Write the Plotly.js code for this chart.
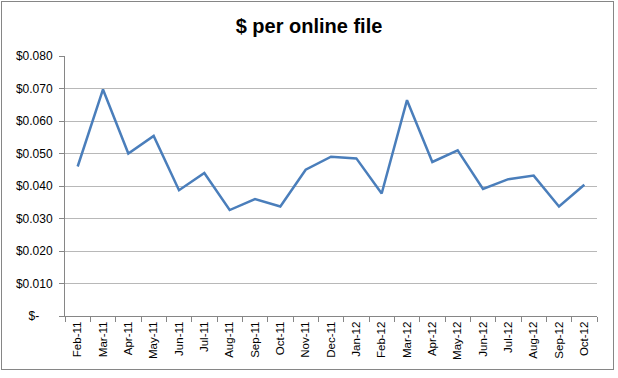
<!DOCTYPE html>
<html>
<head>
<meta charset="utf-8">
<script src="https://cdn.plot.ly/plotly-3.0.1.min.js"></script>
<style>
  html, body { margin: 0; padding: 0; background: #fff; }
  #wrap { position: relative; width: 618px; height: 378px; }
  #chart { position: absolute; left: 0; top: 0; width: 618px; height: 378px; }
  #frame { position: absolute; left: 1px; top: 1px; width: 611px; height: 367px;
           border: 1px solid #868686; pointer-events: none; }
</style>
</head>
<body>
<div id="wrap"><div id="chart"></div><div id="frame"></div></div>
<script>
const months = ["Feb-11","Mar-11","Apr-11","May-11","Jun-11","Jul-11","Aug-11","Sep-11","Oct-11","Nov-11",
                "Dec-11","Jan-12","Feb-12","Mar-12","Apr-12","May-12","Jun-12","Jul-12","Aug-12","Sep-12","Oct-12"];
const costPerFile = [0.0460, 0.0697, 0.0500, 0.0554, 0.0387, 0.0440, 0.0326, 0.0360, 0.0337, 0.0450,
                     0.0490, 0.0485, 0.0377, 0.0664, 0.0474, 0.0510, 0.0391, 0.0421, 0.0432, 0.0337, 0.0404];
const yTickVals = [0, 0.01, 0.02, 0.03, 0.04, 0.05, 0.06, 0.07, 0.08];
const yTickText = ["$-\u00a0\u00a0\u00a0\u00a0", "$0.010", "$0.020", "$0.030", "$0.040", "$0.050", "$0.060", "$0.070", "$0.080"];
const chartTitle = "$ per online file";

const trace = {
  x: months,
  y: costPerFile,
  type: "scatter",
  mode: "lines",
  line: { color: "#4A7EBB", width: 2.5 },
  hoverinfo: "x+y"
};

const layout = {
  width: 618, height: 378,
  margin: { l: 65, r: 21, t: 56, b: 62 },
  paper_bgcolor: "#ffffff",
  plot_bgcolor: "#ffffff",
  showlegend: false,
  font: { family: "Liberation Sans, Arial, sans-serif", size: 11, color: "#000" },
  title: {
    text: "<b>" + chartTitle + "</b>",
    font: { family: "Liberation Sans, Arial, sans-serif", size: 20, color: "#000" },
    x: 0.5, xanchor: "center", y: 0.93, yanchor: "middle"
  },
  xaxis: {
    type: "category",
    range: [-0.5, months.length - 0.5],
    tickangle: -90,
    ticks: "outside",
    tickson: "boundaries",
    ticklen: 5,
    tickcolor: "#868686",
    showgrid: false,
    showline: true,
    linecolor: "#868686",
    linewidth: 1,
    zeroline: false,
    tickfont: { size: 11.5 },
    fixedrange: true
  },
  yaxis: {
    range: [0, 0.08],
    tickvals: yTickVals,
    ticktext: yTickText,
    ticks: "outside",
    ticklen: 5,
    tickcolor: "#868686",
    showgrid: true,
    gridcolor: "#B8B8B8",
    gridwidth: 1,
    showline: true,
    linecolor: "#868686",
    linewidth: 1,
    zeroline: false,
    ticklabelstandoff: 4,
    tickfont: { size: 12 },
    fixedrange: true
  }
};

Plotly.newPlot("chart", [trace], layout, { displayModeBar: false, staticPlot: true });
</script>
</body>
</html>
